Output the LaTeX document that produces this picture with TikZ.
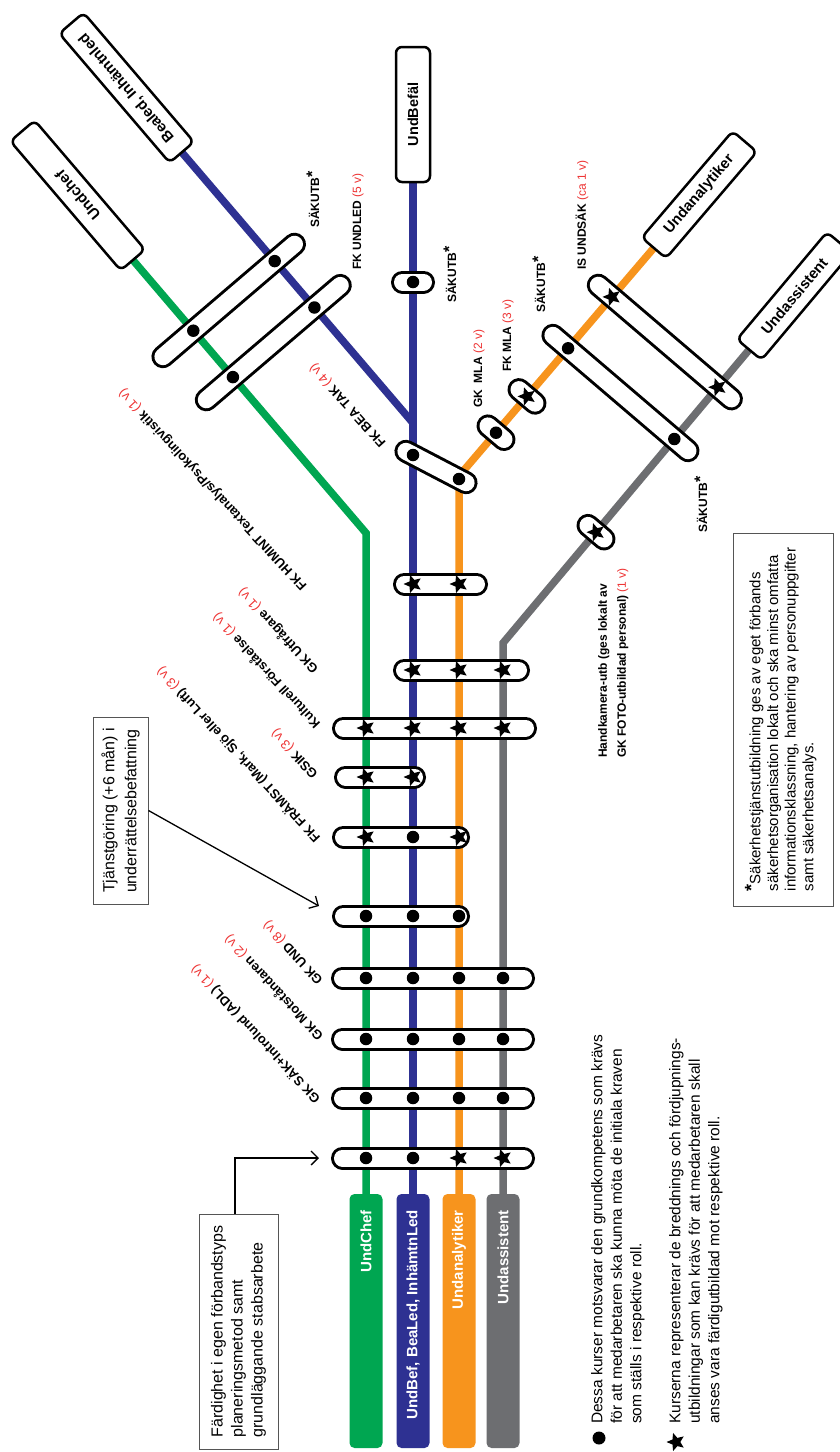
\documentclass[tikz,border=0pt]{standalone}
\usepackage{fontspec}
\setmainfont{Liberation Sans}
\usetikzlibrary{shapes.geometric,arrows.meta,calc}
\definecolor{cgreen}{HTML}{00A651}
\definecolor{cblue}{HTML}{2E3192}
\definecolor{corange}{HTML}{F7941D}
\definecolor{cgray}{HTML}{6D6E71}
\definecolor{cred}{HTML}{EE3333}
\definecolor{cbox}{HTML}{555555}
\newcommand\dur[1]{{\mdseries\color{cred}#1}}
\newcommand\skast{SÄKUTB\raisebox{1.5pt}{\fontsize{16}{16}\selectfont *}}
\newcommand\pill[2]{\draw[pillout] #1 -- #2; \draw[pillin] #1 -- #2;}
\begin{document}
\begin{tikzpicture}[x=1pt,y=-1pt,
  route/.style={line width=7.5pt},
  pillout/.style={line width=23pt,line cap=round,draw=black},
  pillin/.style={line width=17pt,line cap=round,draw=white},
  dotm/.style={circle,fill=black,inner sep=0pt,minimum size=12.5pt},
  starm/.style={star,star points=5,star point ratio=2.2,fill=black,inner sep=0pt,minimum size=19pt,shape border rotate=90},
  endbox/.style={draw=black,line width=2.5pt,fill=white,rounded corners=6pt,minimum width=170pt,minimum height=32pt,inner sep=0pt,font=\bfseries\fontsize{15}{15}\selectfont},
  rolebox/.style={rounded corners=5pt,minimum width=33pt,minimum height=254pt,inner sep=0pt},
  rlab/.style={rotate=90,anchor=east,text=white,inner sep=0pt,font=\bfseries\fontsize{15}{15}\selectfont},
  dlab/.style={rotate=133,anchor=west,inner sep=0pt,font=\bfseries\fontsize{13}{14}\selectfont},
  vlab/.style={rotate=90,anchor=west,inner sep=0pt,font=\bfseries\fontsize{12}{14}\selectfont},
  note/.style={draw=cbox,line width=1pt,rotate=90,align=left,inner sep=0pt},
  legtext/.style={rotate=90,anchor=north west,align=left,inner sep=0pt,font=\fontsize{15.5}{19.5}\selectfont},
  arr/.style={line width=1.3pt,-{Straight Barb[length=7pt,width=14pt]}}
]
\useasboundingbox (0,0) rectangle (840,1452);
\fill[white] (0,0) rectangle (840,1452);

% ---------- route coordinates
\coordinate (g0) at (366,1205); \coordinate (gk) at (366,533); \coordinate (gt) at (77.7,195.4);
\coordinate (b0) at (413,1205); \coordinate (bt) at (413,114); \coordinate (bj) at (413,423); \coordinate (bd) at (126.6,87.7);
\coordinate (o0) at (459,1205); \coordinate (ok) at (459,476); \coordinate (ot) at (699.3,194.7);
\coordinate (a0) at (503,1205); \coordinate (ak) at (503,643); \coordinate (at) at (794.2,296);

\draw[route,cgreen] (g0) -- (gk) -- (gt);
\draw[route,cblue] (b0) -- (bt);
\draw[route,cblue] (bd) -- (bj) -- ++(0,30);
\draw[route,corange] (o0) -- (ok) -- (ot);
\draw[route,cgray] (a0) -- (ak) -- (at);

% ---------- role boxes at the bottom
\node[rolebox,fill=cgreen] (rb-g) at (366,1321) {};
\node[rolebox,fill=cblue] (rb-b) at (413,1321) {};
\node[rolebox,fill=corange] (rb-o) at (459,1321) {};
\node[rolebox,fill=cgray] (rb-a) at (503,1321) {};
\node[rlab] (rt-g) at (366,1210) {UndChef};
\node[rlab] (rt-b) at (413,1210) {UndBef, BeaLed, InhämtnLed};
\node[rlab] (rt-o) at (459,1210) {Undanalytiker};
\node[rlab] (rt-a) at (503,1210) {Undassistent};

% ---------- end boxes
\node[endbox,rotate=130.5] (uc) at (gt) {Undchef};
\node[endbox,rotate=130.5] (bl) at (bd) {Bealed, Inhämtnled};
\node[endbox,rotate=90,minimum width=135pt,minimum height=34pt,font=\bfseries\fontsize{14.5}{15}\selectfont] (ub) at (413,114.5) {UndBefäl};
\node[endbox,rotate=49.5,minimum width=140pt] (ua) at (ot) {Undanalytiker};
\node[endbox,rotate=50,minimum width=140pt] (us) at (at) {Undassistent};

% ---------- horizontal pills
\pill{(404.5,584)}{(476.5,584)}
\pill{(404.5,670)}{(518.5,670)}
\pill{(343.5,728)}{(525.5,728)}
\pill{(345.5,777)}{(414.5,777)}
\pill{(343.5,837)}{(458.5,837)}
\pill{(343.5,916)}{(458.5,916)}
\pill{(342.5,978)}{(523.5,978)}
\pill{(342.5,1039)}{(523.5,1039)}
\pill{(342.5,1098)}{(523.5,1098)}
\pill{(342.5,1158)}{(523.5,1158)}

% ---------- diagonal / small pills
\pill{(162.9,356.7)}{(294.5,244.2)}
\pill{(206.3,399.8)}{(340.3,285.4)}
\pill{(405.9,451.3)}{(466.1,482.7)}
\pill{(402.5,282)}{(423.5,282)}
\pill{(488,425.9)}{(504,439.5)}
\pill{(519,389.6)}{(535,403.2)}
\pill{(552.9,335.3)}{(688,450.7)}
\pill{(598.3,285.2)}{(731.4,398.9)}
\pill{(588,525.4)}{(604,539)}

% ---------- markers on horizontal pills
\foreach \xx in {413,459} {\node[starm] (s584-\xx) at (\xx,584) {};}
\foreach \xx in {413,459,503} {\node[starm] (s670-\xx) at (\xx,670) {};}
\foreach \xx in {366,413,459,503} {\node[starm] (s728-\xx) at (\xx,728) {};}
\foreach \xx in {366,413} {\node[starm] (s777-\xx) at (\xx,777) {};}
\node[starm] (s837-366) at (366,837) {};
\node[dotm] (d837-413) at (413,837) {};
\node[starm] (s837-459) at (459,837) {};
\foreach \xx in {366,413,459} {\node[dotm] (d916-\xx) at (\xx,916) {};}
\foreach \yy in {978,1039,1098} {\foreach \xx in {366,413,459,503} {\node[dotm] (d\yy-\xx) at (\xx,\yy) {};}}
\node[dotm] (d1158-366) at (366,1158) {};
\node[dotm] (d1158-413) at (413,1158) {};
\node[starm] (s1158-459) at (459,1158) {};
\node[starm] (s1158-503) at (503,1158) {};

% ---------- markers on diagonal pills
\node[dotm] (da-g) at (193.3,330.7) {};
\node[dotm] (da-b) at (274.7,261.1) {};
\node[dotm] (db-g) at (232.9,377.1) {};
\node[dotm] (db-b) at (314.4,307.5) {};
\node[dotm] (dt-b) at (413,455) {};
\node[dotm] (dt-o) at (459,479) {};
\node[dotm] (ds-b) at (413,282) {};
\node[dotm] (dgm) at (496,432.7) {};
\node[starm] (sfm) at (527,396.4) {};
\node[dotm] (dbig-o) at (568.1,348.3) {};
\node[dotm] (dbig-a) at (674.3,439) {};
\node[starm] (sis-o) at (612,296.9) {};
\node[starm] (sis-a) at (717.7,387.2) {};
\node[starm] (shk) at (596,532.2) {};

% ---------- diagonal labels
\node[dlab,rotate=-1] (l-bea) at (384,445) {FK BEA TAK \dur{(4 v)}};
\node[dlab] (l-hum) at (305,588) {FK HUMINT Textanalys/Psykolingvistik \dur{(1 v)}};
\node[dlab] (l-utf) at (316,671) {GK Utfrågare \dur{(1 v)}};
\node[dlab] (l-kul) at (318,726) {Kulturell Förståelse \dur{(1 v)}};
\node[dlab] (l-gsik) at (316,776) {GSIK \dur{(3 v)}};
\node[dlab] (l-fram) at (318,840) {FK FRÄMST (Mark, Sjö eller Luft) \dur{(3 v)}};
\node[dlab] (l-und) at (321,982) {GK UND \dur{(8 v)}};
\node[dlab] (l-mot) at (321,1038) {GK Motståndaren \dur{(2 v)}};
\node[dlab] (l-sak) at (318,1101) {GK SÄK+Introlund (ADL) \dur{(1 v)}};

% ---------- vertical labels
\node[vlab] (v-s1) at (313,228) {\skast};
\node[vlab] (v-undled) at (358,270) {FK UNDLED \dur{(5 v)}};
\node[vlab] (v-s2) at (450,303) {\skast};
\node[vlab] (v-gkmla) at (479,408) {GK\ \ MLA \dur{(2 v)}};
\node[vlab] (v-fkmla) at (508,372) {FK MLA \dur{(3 v)}};
\node[vlab] (v-s3) at (539,313) {\skast};
\node[vlab] (v-is) at (582,270) {IS UNDSÄK \dur{(ca 1 v)}};
\node[vlab] (v-s4) at (701,533) {\skast};
\node[vlab,anchor=north west,align=left,font=\bfseries\fontsize{12}{19}\selectfont] (v-hk) at (598,758) {Handkamera-utb (ges lokalt av\\GK FOTO-utbildad personal) \dur{(1 v)}};

% ---------- notes
\node[note,minimum width=187pt,minimum height=55pt,font=\fontsize{16}{22}\selectfont] (tj) at (120.5,810.5) {Tjänstgöring (+6 mån) i\\underrättelsebefattning};
\node[note,minimum width=235pt,minimum height=79pt,font=\fontsize{16}{20}\selectfont] (fd) at (238.5,1331.5) {Färdighet i egen förbandstyps\\planeringsmetod samt\\grundläggande stabsarbete};
\node[note,minimum width=373pt,minimum height=100pt,font=\fontsize{15}{17.7}\selectfont] (fn) at (783,719.5) {\raisebox{3pt}[0pt][0pt]{\bfseries\fontsize{18}{18}\selectfont *}Säkerhetstjänstutbildning ges av eget förbands\\säkerhetsorganisation lokalt och ska minst omfatta\\informationsklassning, hantering av personuppgifter\\samt säkerhetsanalys.};

\coordinate (p5tip) at (319,906);
\coordinate (p1tip) at (319,1158);
\draw[arr] (tj.south) -- (p5tip);
\draw[arr] ([xshift=-3.5pt]fd.east) |- (p1tip);

% ---------- legend
\node[dotm,minimum size=13pt] (ld) at (599,1438) {};
\node[starm,minimum size=19pt] (ls) at (676,1442) {};
\node[legtext] (lt1) at (591,1424) {Dessa kurser motsvarar den grundkompetens som krävs\\för att medarbetaren ska kunna möta de initiala kraven\\som ställs i respektive roll.};
\node[legtext] (lt2) at (669,1424) {Kurserna representerar de breddnings och fördjupnings-\\utbildningar som kan krävs för att medarbetaren skall\\anses vara färdigutbildad mot respektive roll.};
\end{tikzpicture}
\end{document}
